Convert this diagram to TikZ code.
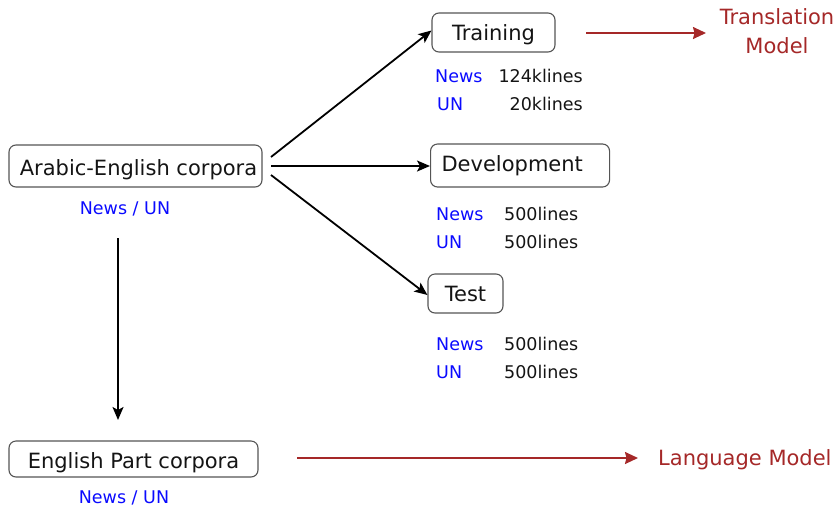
\documentclass[tikz,border=0pt]{standalone}
\usepackage{fontspec}
\setmainfont{DejaVu Sans}
\usetikzlibrary{arrows.meta}
\definecolor{boxgray}{RGB}{85,85,85}
\definecolor{lblue}{RGB}{10,10,255}
\definecolor{mred}{RGB}{165,40,40}
\definecolor{txt}{RGB}{20,20,20}
\begin{document}
\begin{tikzpicture}[x=1pt,y=-1pt,
  box/.style={draw=boxgray,line width=1.1pt,rounded corners=7pt,inner sep=0pt,
    font=\fontsize{21}{25}\selectfont,text=txt,text height=20pt,text depth=5pt},
  lbl/.style={inner sep=0pt,font=\fontsize{17.5}{21}\selectfont,text=txt},
  src/.style={lbl,text=lblue},
  redtxt/.style={inner sep=0pt,font=\fontsize{21}{29}\selectfont,text=mred,align=center},
  blk/.style={draw=black,line width=1.8pt,-{Stealth[length=13pt,width=11pt,inset=3pt]}},
  redarr/.style={draw=mred,line width=1.8pt,-{Stealth[length=13pt,width=12pt,inset=1.5pt]}}]
\useasboundingbox (0,0) rectangle (838,507);

\node[box,minimum width=253pt,minimum height=42pt,text height=23pt] (arab) at (135.5,166) {\hspace*{6pt}Arabic-English corpora};
\node[src] (arabsrc) at (125,209) {News / UN};

\node[box,minimum width=123pt,minimum height=39pt] (train) at (493.5,32.5) {Training};
\node[box,anchor=west,minimum height=43pt,text width=157pt,align=left,inner xsep=11pt,text height=16pt] (dev) at (430,165.5) {Development};
\node[box,minimum width=75pt,minimum height=39pt] (test) at (465.5,293.5) {Test};
\node[box,minimum width=249pt,minimum height=36pt,text height=23pt] (eng) at (133.5,459) {English Part corpora};
\node[src] (engsrc) at (124,498) {News / UN};

\node[src,anchor=west] (trn1) at (435,76) {News};
\node[lbl,anchor=east] (trv1) at (583,76) {124klines};
\node[src,anchor=west] (trn2) at (437,104) {UN};
\node[lbl,anchor=east] (trv2) at (583,104) {20klines};

\node[src,anchor=west] (dvn1) at (436,214) {News};
\node[lbl,anchor=west] (dvv1) at (504,214) {500lines};
\node[src,anchor=west] (dvn2) at (436,242) {UN};
\node[lbl,anchor=west] (dvv2) at (504,242) {500lines};

\node[src,anchor=west] (tsn1) at (436,344) {News};
\node[lbl,anchor=west] (tsv1) at (504,344) {500lines};
\node[src,anchor=west] (tsn2) at (436,372) {UN};
\node[lbl,anchor=west] (tsv2) at (504,372) {500lines};

\node[redtxt] (tm) at (777,31.5) {Translation\\Model};
\node[redtxt,anchor=west] (lm) at (658,459.5) {Language Model};

\coordinate (a1) at (271,157);
\coordinate (a2) at (271,166);
\coordinate (a3) at (271,175);
\coordinate (v1) at (118,238);
\coordinate (v2) at (118,420);
\coordinate (r1) at (586,33);
\coordinate (r2) at (706,33);
\coordinate (r3) at (297,458);
\coordinate (r4) at (638,458);

\draw[blk] (a1) -- ([yshift=2pt]train.west);
\draw[blk] (a2) -- ([yshift=-0.5pt]dev.west);
\draw[blk] (a3) -- ([yshift=-1.5pt]test.west);
\draw[blk] (v1) -- (v2);
\draw[redarr] (r1) -- (r2);
\draw[redarr] (r3) -- (r4);
\end{tikzpicture}
\end{document}
